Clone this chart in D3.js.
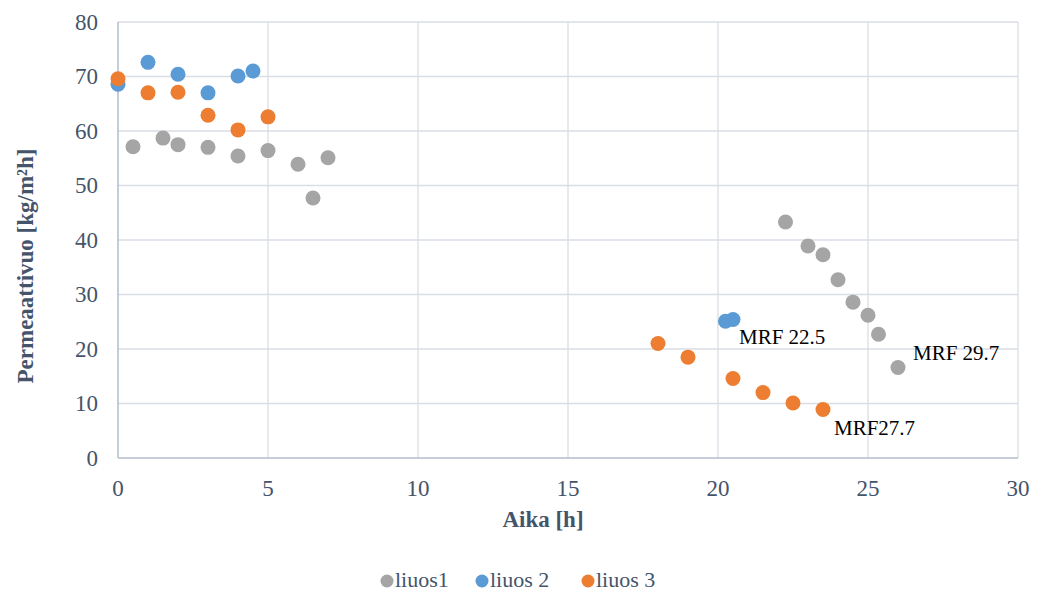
<!DOCTYPE html>
<html>
<head>
<meta charset="utf-8">
<script src="https://cdn.jsdelivr.net/npm/d3@7"></script>
<style>
  body { margin: 0; background: #fff; }
  svg text { font-family: "Liberation Serif", "DejaVu Serif", serif; }
</style>
</head>
<body>
<div id="chart"></div>
<script>
// series
const liuos1X = [0.5, 1.5, 2, 3, 4, 5, 6, 6.5, 7, 22.25, 23, 23.5, 24, 24.5, 25, 25.35, 26];
const liuos1Y = [57.1, 58.7, 57.5, 57.0, 55.4, 56.4, 53.9, 47.7, 55.1, 43.3, 38.9, 37.3, 32.7, 28.6, 26.2, 22.7, 16.6];
const liuos2X = [0, 1, 2, 3, 4, 4.5, 20.25, 20.5];
const liuos2Y = [68.6, 72.6, 70.4, 67.0, 70.1, 71.0, 25.1, 25.4];
const liuos3X = [0, 1, 2, 3, 4, 5, 18, 19, 20.5, 21.5, 22.5, 23.5];
const liuos3Y = [69.6, 67.0, 67.1, 62.9, 60.2, 62.6, 21.0, 18.5, 14.6, 12.0, 10.1, 8.9];

const seriesNames = ["liuos1", "liuos 2", "liuos 3"];
const lastLabels = ["MRF 29.7", "MRF 22.5", "MRF27.7"];
const xTicks = [0, 5, 10, 15, 20, 25, 30];
const yTicks = [0, 10, 20, 30, 40, 50, 60, 70, 80];

const colors = ["#a5a5a5", "#5b9bd5", "#ed7d31"];
const labelOffsets = [[15, -15], [6, 17], [11, 18]];

const width = 1041, height = 593;
const margin = {left: 118, right: 23, top: 22, bottom: 135};
const textColor = "#44546a";
const serif = '"Liberation Serif", "DejaVu Serif", serif';

const svg = d3.select("#chart").append("svg")
  .attr("width", width)
  .attr("height", height)
  .attr("font-family", serif);

const x = d3.scaleLinear().domain([0, 30]).range([margin.left, width - margin.right]);
const y = d3.scaleLinear().domain([0, 80]).range([height - margin.bottom, margin.top]);

// grid
svg.append("g").selectAll("line")
  .data(yTicks.filter(d => d > 0))
  .join("line")
  .attr("x1", x(0)).attr("x2", x(30))
  .attr("y1", d => y(d)).attr("y2", d => y(d))
  .attr("stroke", "#d9dde5").attr("stroke-width", 1.3);

svg.append("g").selectAll("line")
  .data(xTicks.filter(d => d > 0))
  .join("line")
  .attr("x1", d => x(d)).attr("x2", d => x(d))
  .attr("y1", y(0)).attr("y2", y(80))
  .attr("stroke", "#d9dde5").attr("stroke-width", 1.3);

// axis lines
svg.append("line")
  .attr("x1", x(0)).attr("x2", x(30)).attr("y1", y(0)).attr("y2", y(0))
  .attr("stroke", "#b4bccb").attr("stroke-width", 1.5);
svg.append("line")
  .attr("x1", x(0)).attr("x2", x(0)).attr("y1", y(0)).attr("y2", y(80))
  .attr("stroke", "#b4bccb").attr("stroke-width", 1.5);

// tick labels
svg.append("g").selectAll("text")
  .data(yTicks)
  .join("text")
  .attr("x", 98)
  .attr("y", d => y(d))
  .attr("dy", "0.34em")
  .attr("text-anchor", "end")
  .attr("font-size", 23)
  .attr("font-family", serif)
  .attr("fill", textColor)
  .text(d => d);

svg.append("g").selectAll("text")
  .data(xTicks)
  .join("text")
  .attr("x", d => x(d))
  .attr("y", 496)
  .attr("text-anchor", "middle")
  .attr("font-size", 23)
  .attr("font-family", serif)
  .attr("fill", textColor)
  .text(d => d);

// axis titles
svg.append("text")
  .attr("x", 543)
  .attr("y", 527)
  .attr("text-anchor", "middle")
  .attr("font-size", 23)
  .attr("font-weight", "bold")
  .attr("font-family", serif)
  .attr("fill", textColor)
  .text("Aika [h]");

svg.append("text")
  .attr("transform", "translate(33,266) rotate(-90)")
  .attr("text-anchor", "middle")
  .attr("font-size", 23)
  .attr("font-weight", "bold")
  .attr("font-family", serif)
  .attr("fill", textColor)
  .text("Permeaattivuo [kg/m²h]");

// points, series drawn in order so orange sits on top
const allSeries = [
  d3.zip(liuos1X, liuos1Y),
  d3.zip(liuos2X, liuos2Y),
  d3.zip(liuos3X, liuos3Y)
];

allSeries.forEach((pts, i) => {
  svg.append("g").selectAll("circle")
    .data(pts)
    .join("circle")
    .attr("cx", d => x(d[0]))
    .attr("cy", d => y(d[1]))
    .attr("r", 7.5)
    .attr("fill", colors[i]);
});

// data labels on last point
allSeries.forEach((pts, i) => {
  const last = pts[pts.length - 1];
  svg.append("text")
    .attr("x", x(last[0]) + labelOffsets[i][0])
    .attr("y", y(last[1]) + labelOffsets[i][1])
    .attr("dy", "0.34em")
    .attr("font-size", 21)
    .attr("font-family", serif)
    .attr("fill", "#000")
    .text(lastLabels[i]);
});

// legend
const legendX = [387, 482, 588];
const legend = svg.append("g");
seriesNames.forEach((name, i) => {
  legend.append("circle")
    .attr("cx", legendX[i]).attr("cy", 581)
    .attr("r", 6.5)
    .attr("fill", colors[i]);
  legend.append("text")
    .attr("x", legendX[i] + 8)
    .attr("y", 587)
    .attr("font-size", 22)
    .attr("font-family", serif)
    .attr("fill", textColor)
    .text(name);
});
</script>
</body>
</html>
